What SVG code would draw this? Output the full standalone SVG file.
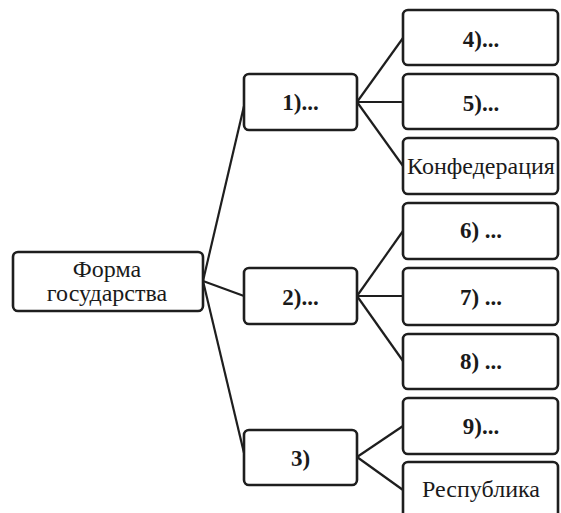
<svg xmlns="http://www.w3.org/2000/svg" width="561" height="513" viewBox="0 0 561 513">
<style>
.box{fill:#fff;stroke:#1e1e1e;stroke-width:2.6}
.lbl{font-family:"Liberation Serif","Times New Roman",serif;font-size:24px;fill:#1a1a1a;text-anchor:middle}
.b{font-weight:bold;font-size:23px}
.con line{stroke:#1e1e1e;stroke-width:2.2;fill:none}
</style>
<rect width="561" height="513" fill="#fff"/>
<g class="con" id="connectors">
<line x1="203" y1="281" x2="244" y2="106"/>
<line x1="203" y1="281" x2="244" y2="296"/>
<line x1="203" y1="281" x2="244" y2="453"/>
<line x1="357" y1="102" x2="403" y2="38"/>
<line x1="357" y1="102" x2="403" y2="102"/>
<line x1="357" y1="102" x2="403" y2="166"/>
<line x1="357" y1="296" x2="403" y2="231"/>
<line x1="357" y1="296" x2="403" y2="296"/>
<line x1="357" y1="296" x2="403" y2="361"/>
<line x1="357" y1="457" x2="403" y2="426"/>
<line x1="357" y1="457" x2="403" y2="490"/>
</g>
<g id="forma"><rect class="box" x="13" y="252" width="190" height="59" rx="5"/><text class="lbl" x="107" y="276.5">Форма</text><text class="lbl" x="107" y="301">государства</text></g>
<g id="n1"><rect class="box" x="244" y="74" width="113" height="56" rx="5"/><text class="lbl b" x="300.5" y="110">1)...</text></g>
<g id="n2"><rect class="box" x="244" y="268" width="113" height="56" rx="5"/><text class="lbl b" x="300.5" y="305">2)...</text></g>
<g id="n3"><rect class="box" x="244" y="430" width="113" height="55" rx="5"/><text class="lbl b" x="300.5" y="466">3)</text></g>
<g id="n4"><rect class="box" x="403" y="10" width="155" height="55" rx="5"/><text class="lbl b" x="481" y="47">4)...</text></g>
<g id="n5"><rect class="box" x="403" y="74" width="155" height="55" rx="5"/><text class="lbl b" x="481" y="111">5)...</text></g>
<g id="konf"><rect class="box" x="403" y="138" width="155" height="56" rx="5"/><text class="lbl" x="481" y="174">Конфедерация</text></g>
<g id="n6"><rect class="box" x="403" y="203" width="155" height="56" rx="5"/><text class="lbl b" x="481" y="238">6) ...</text></g>
<g id="n7"><rect class="box" x="403" y="268" width="155" height="57" rx="5"/><text class="lbl b" x="481" y="305">7) ...</text></g>
<g id="n8"><rect class="box" x="403" y="334" width="155" height="55" rx="5"/><text class="lbl b" x="481" y="369">8) ...</text></g>
<g id="n9"><rect class="box" x="403" y="398" width="155" height="56" rx="5"/><text class="lbl b" x="481" y="434">9)...</text></g>
<g id="resp"><rect class="box" x="403" y="462" width="155" height="60" rx="5"/><text class="lbl" x="481" y="497">Республика</text></g>
</svg>
